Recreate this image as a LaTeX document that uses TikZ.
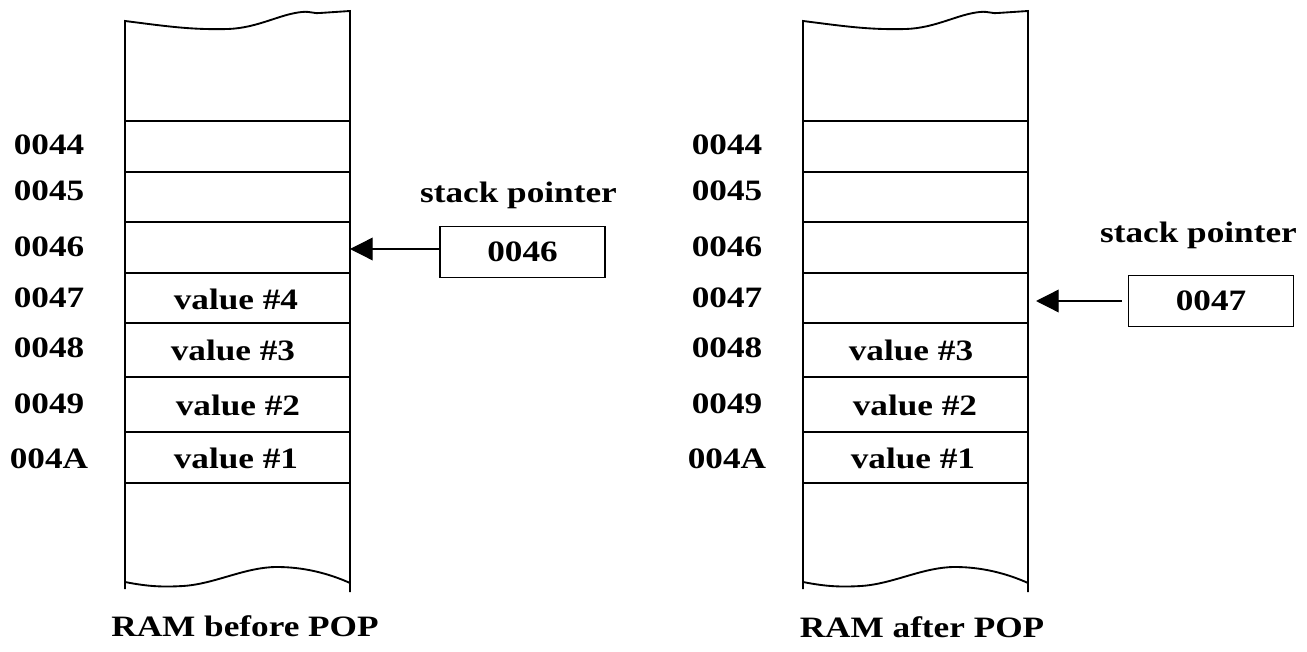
\documentclass[tikz,border=0pt]{standalone}
\usepackage{fontspec}
\setmainfont{Liberation Serif}[FakeStretch=1.19]
\usetikzlibrary{arrows.meta}
\begin{document}
\begin{tikzpicture}[x=0.75pt,y=-0.75pt,
  mem/.style={line width=1.4pt, black},
  txt/.style={font=\bfseries\fontsize{22.2}{26}\selectfont, inner sep=0pt, anchor=base},
  spbox/.style={draw, line width=1.2pt, minimum width=123.5pt, minimum height=38pt, inner sep=0pt,
    font=\bfseries\fontsize{22.2}{26}\selectfont},
  ptr/.style={line width=1.0pt, -{Triangle[length=17pt,width=17pt]}}]
\useasboundingbox (0,0) rectangle (1307,652);
\fill[white] (0,0) rectangle (1307,652);
\foreach \s/\dx in {L/0,R/678}{
  % column outline with torn top
  \draw[mem] (\dx+125,589) -- (\dx+125,21)
     .. controls (\dx+165,26) and (\dx+190,30) .. (\dx+228,29)
     .. controls (\dx+258,28) and (\dx+280,14) .. (\dx+302,12)
     .. controls (\dx+310,11) and (\dx+315,14) .. (\dx+320,13)
     -- (\dx+350,11) -- (\dx+350,592);
  % torn bottom
  \draw[mem] (\dx+125,582) .. controls (\dx+150,587) and (\dx+165,587) .. (\dx+183,586)
     .. controls (\dx+215,584) and (\dx+245,567) .. (\dx+277,567)
     .. controls (\dx+305,567) and (\dx+330,574) .. (\dx+350,583);
  % cell boundaries
  \foreach \y in {121,172,222,273,323,377,432,483}
    \draw[mem] (\dx+125,\y) -- (\dx+350,\y);
  % addresses
  \foreach \lab/\y in {0044/155,0045/201,0046/257,0047/308,0048/358,0049/413,004A/468}
    \node[txt] (\s-\lab) at (\dx+49,\y) {\lab};
}
% values before POP
\node[txt] (L-v4) at (236,310) {value \#4};
\node[txt] (L-v3) at (233,360) {value \#3};
\node[txt] (L-v2) at (238,416) {value \#2};
\node[txt] (L-v1) at (236,468) {value \#1};
% values after POP
\node[txt] (R-v3) at (911,360) {value \#3};
\node[txt] (R-v2) at (915,416) {value \#2};
\node[txt] (R-v1) at (913,468) {value \#1};
% stack pointers
\node[txt] (L-sptxt) at (518.5,203) {stack pointer};
\node[spbox] (L-sp) at (522.5,252) {0046};
\coordinate (L-tip) at (350,249);
\draw[ptr] ([yshift=2.25pt]L-sp.west) -- (L-tip);
\node[txt] (R-sptxt) at (1198.5,243) {stack pointer};
\node[spbox] (R-sp) at (1211,301) {0047};
\coordinate (R-tip) at (1036,301);
\draw[ptr, shorten <=4.5pt] (R-sp.west) -- (R-tip);
% captions
\node[txt] (L-cap) at (245,636) {RAM before POP};
\node[txt] (R-cap) at (922,637) {RAM after POP};
\end{tikzpicture}
\end{document}
